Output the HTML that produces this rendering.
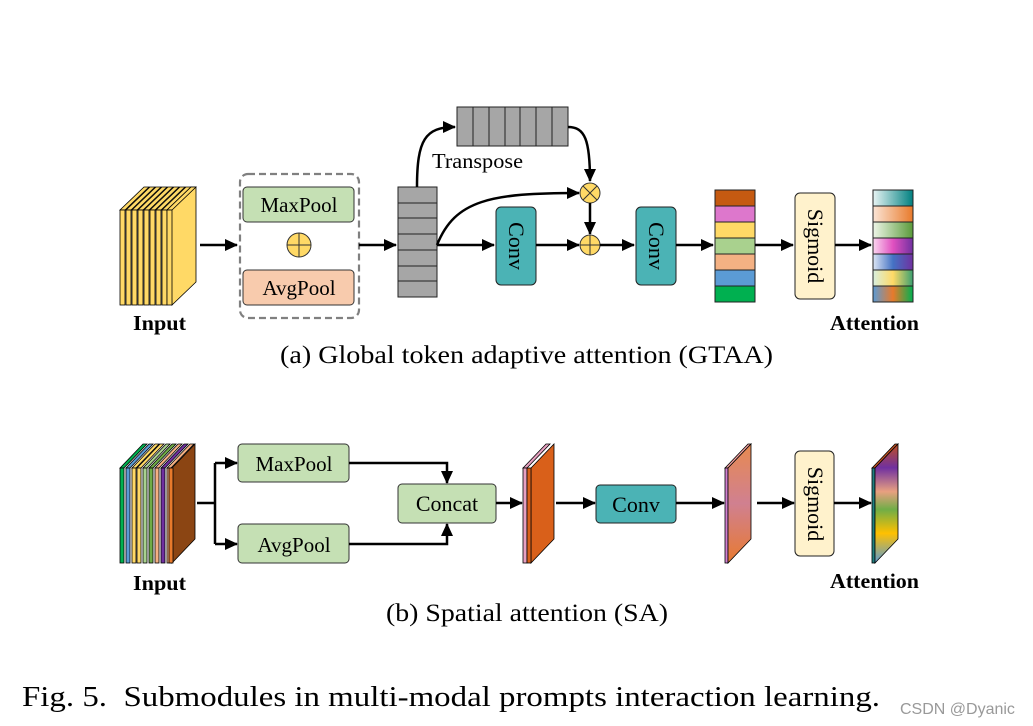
<!DOCTYPE html>
<html><head><meta charset="utf-8"><style>
html,body{margin:0;padding:0;background:#fff}
svg{display:block}
text{font-family:"Liberation Serif",serif}
</style></head><body>
<svg width="1033" height="726" viewBox="0 0 1033 726" xmlns="http://www.w3.org/2000/svg">
<defs>
<marker id="ar" markerWidth="13" markerHeight="12" refX="12" refY="6" orient="auto" markerUnits="userSpaceOnUse"><path d="M0,0 L13,6 L0,12 z" fill="#000"/></marker>
<linearGradient id="g1" x1="0" x2="1"><stop offset="0" stop-color="#e8f4f4"/><stop offset="1" stop-color="#008080"/></linearGradient>
<linearGradient id="g2" x1="0" x2="1"><stop offset="0" stop-color="#fbe5d6"/><stop offset="1" stop-color="#e87a2b"/></linearGradient>
<linearGradient id="g3" x1="0" x2="1"><stop offset="0" stop-color="#eef6e8"/><stop offset="1" stop-color="#5a9a3a"/></linearGradient>
<linearGradient id="g4" x1="0" x2="1"><stop offset="0" stop-color="#fbd7f0"/><stop offset="0.5" stop-color="#e050c0"/><stop offset="1" stop-color="#7030a0"/></linearGradient>
<linearGradient id="g5" x1="0" x2="1"><stop offset="0" stop-color="#dde6f4"/><stop offset="0.5" stop-color="#4472c4"/><stop offset="1" stop-color="#7030a0"/></linearGradient>
<linearGradient id="g6" x1="0" x2="1"><stop offset="0" stop-color="#d8f0e0"/><stop offset="0.5" stop-color="#ffd966"/><stop offset="1" stop-color="#3aa070"/></linearGradient>
<linearGradient id="g7" x1="0" x2="1"><stop offset="0" stop-color="#5b9bd5"/><stop offset="0.5" stop-color="#e87a2b"/><stop offset="1" stop-color="#00b050"/></linearGradient>
<linearGradient id="gm2" x1="0" y1="0" x2="0" y2="1"><stop offset="0" stop-color="#e88a50"/><stop offset="0.5" stop-color="#d08090"/><stop offset="1" stop-color="#e87a30"/></linearGradient>
<linearGradient id="gat" x1="0" y1="0" x2="0" y2="1"><stop offset="0" stop-color="#c05020"/><stop offset="0.2" stop-color="#7030a0"/><stop offset="0.4" stop-color="#e8a080"/><stop offset="0.55" stop-color="#70ad47"/><stop offset="0.75" stop-color="#ffc000"/><stop offset="1" stop-color="#5b9bd5"/></linearGradient>
</defs>

<!-- TOP input stack -->
<g stroke="#000" stroke-width="0.8" fill="#ffd966">
<path d="M120,210 l24,-23 h5 l-24,23 z"/><rect x="120" y="210" width="5" height="95"/>
<path d="M126,210 l24,-23 h5 l-24,23 z"/><rect x="126" y="210" width="5" height="95"/>
<path d="M132,210 l24,-23 h5 l-24,23 z"/><rect x="132" y="210" width="5" height="95"/>
<path d="M138,210 l24,-23 h5 l-24,23 z"/><rect x="138" y="210" width="5" height="95"/>
<path d="M144,210 l24,-23 h5 l-24,23 z"/><rect x="144" y="210" width="5" height="95"/>
<path d="M150,210 l24,-23 h5 l-24,23 z"/><rect x="150" y="210" width="5" height="95"/>
<path d="M156,210 l24,-23 h5 l-24,23 z"/><rect x="156" y="210" width="5" height="95"/>
<path d="M162,210 l24,-23 h5 l-24,23 z"/><rect x="162" y="210" width="5" height="95"/>
<path d="M167,210 l24,-23 h5 v95 l-24,23 z"/>
<path d="M167,210 l24,-23 h5 l-24,23 z"/><rect x="167" y="210" width="5" height="95"/>
</g>
<text x="133" y="330" font-size="21" font-weight="bold" textLength="53" lengthAdjust="spacingAndGlyphs">Input</text>

<line x1="200" y1="245" x2="237" y2="245" stroke="#000" stroke-width="2.5" marker-end="url(#ar)"/>
<rect x="240" y="174" width="119" height="144" rx="8" fill="none" stroke="#808080" stroke-width="2.2" stroke-dasharray="7,4"/>
<rect x="243" y="187" width="111" height="35" rx="4" fill="#c5e0b4" stroke="#333" stroke-width="1"/>
<text x="299" y="212" font-size="21" text-anchor="middle">MaxPool</text>
<circle cx="299" cy="245" r="12" fill="#ffd966" stroke="#333"/><path d="M287,245 h24 M299,233 v24" stroke="#333"/>
<rect x="243" y="270" width="111" height="35" rx="4" fill="#f8cbad" stroke="#333" stroke-width="1"/>
<text x="299" y="295" font-size="21" text-anchor="middle">AvgPool</text>
<line x1="359" y1="245" x2="396" y2="245" stroke="#000" stroke-width="2.5" marker-end="url(#ar)"/>

<g fill="#a6a6a6" stroke="#222" stroke-width="1">
<rect x="398" y="187" width="39" height="110"/>
<path d="M398,203 h39 M398,218 h39 M398,234 h39 M398,250 h39 M398,266 h39 M398,281 h39"/>
<rect x="457" y="107" width="111" height="39"/>
<path d="M473,107 v39 M489,107 v39 M505,107 v39 M520,107 v39 M536,107 v39 M552,107 v39"/>
</g>
<path d="M417,187 C417,140 425,127 455,127" fill="none" stroke="#000" stroke-width="2.5" marker-end="url(#ar)"/>
<text x="432" y="168" font-size="21" textLength="91" lengthAdjust="spacingAndGlyphs">Transpose</text>
<path d="M568,127 C585,127 590,140 590,181" fill="none" stroke="#000" stroke-width="2.5" marker-end="url(#ar)"/>
<path d="M437,245 C455,200 490,193 579,193" fill="none" stroke="#000" stroke-width="2.5" marker-end="url(#ar)"/>
<circle cx="590" cy="193" r="10" fill="#ffd966" stroke="#333"/><path d="M583,186 l14,14 M597,186 l-14,14" stroke="#333"/>
<line x1="590" y1="203" x2="590" y2="234" stroke="#000" stroke-width="2.5" marker-end="url(#ar)"/>
<circle cx="590" cy="245" r="10" fill="#ffd966" stroke="#333"/><path d="M580,245 h20 M590,235 v20" stroke="#333"/>
<line x1="437" y1="245" x2="494" y2="245" stroke="#000" stroke-width="2.5" marker-end="url(#ar)"/>
<rect x="496" y="207" width="40" height="78" rx="5" fill="#4bb3b5" stroke="#222"/>
<text transform="translate(509,246) rotate(90)" font-size="22" text-anchor="middle">Conv</text>
<line x1="536" y1="245" x2="579" y2="245" stroke="#000" stroke-width="2.5" marker-end="url(#ar)"/>
<line x1="600" y1="245" x2="634" y2="245" stroke="#000" stroke-width="2.5" marker-end="url(#ar)"/>
<rect x="636" y="207" width="40" height="78" rx="5" fill="#4bb3b5" stroke="#222"/>
<text transform="translate(649,246) rotate(90)" font-size="22" text-anchor="middle">Conv</text>
<line x1="676" y1="245" x2="713" y2="245" stroke="#000" stroke-width="2.5" marker-end="url(#ar)"/>
<g stroke="#222" stroke-width="1">
<rect x="715" y="190" width="40" height="16" fill="#c55a11"/>
<rect x="715" y="206" width="40" height="16" fill="#dd77cc"/>
<rect x="715" y="222" width="40" height="16" fill="#ffd966"/>
<rect x="715" y="238" width="40" height="16" fill="#a9d18e"/>
<rect x="715" y="254" width="40" height="16" fill="#f4b183"/>
<rect x="715" y="270" width="40" height="16" fill="#5b9bd5"/>
<rect x="715" y="286" width="40" height="16" fill="#00b050"/>
</g>
<line x1="755" y1="245" x2="793" y2="245" stroke="#000" stroke-width="2.5" marker-end="url(#ar)"/>
<rect x="795" y="193" width="40" height="106" rx="5" fill="#fff2cc" stroke="#222"/>
<text transform="translate(808,246) rotate(90)" font-size="22" text-anchor="middle">Sigmoid</text>
<line x1="835" y1="245" x2="871" y2="245" stroke="#000" stroke-width="2.5" marker-end="url(#ar)"/>
<g stroke="#222" stroke-width="1">
<rect x="873" y="190" width="40" height="16" fill="url(#g1)"/>
<rect x="873" y="206" width="40" height="16" fill="url(#g2)"/>
<rect x="873" y="222" width="40" height="16" fill="url(#g3)"/>
<rect x="873" y="238" width="40" height="16" fill="url(#g4)"/>
<rect x="873" y="254" width="40" height="16" fill="url(#g5)"/>
<rect x="873" y="270" width="40" height="16" fill="url(#g6)"/>
<rect x="873" y="286" width="40" height="16" fill="url(#g7)"/>
</g>
<text x="830" y="330" font-size="21" font-weight="bold" textLength="89" lengthAdjust="spacingAndGlyphs">Attention</text>
<text x="280" y="363" font-size="25" textLength="493" lengthAdjust="spacingAndGlyphs">(a) Global token adaptive attention (GTAA)</text>

<!-- BOTTOM -->
<g stroke="#000" stroke-width="0.8">
<g fill="#00b050"><path d="M120,468 l23,-24 h4 l-23,24 z"/><rect x="120" y="468" width="4" height="95"/></g>
<g fill="#5b9bd5"><path d="M126,468 l23,-24 h4 l-23,24 z"/><rect x="126" y="468" width="4" height="95"/></g>
<g fill="#ffd966"><path d="M132,468 l23,-24 h4 l-23,24 z"/><rect x="132" y="468" width="4" height="95"/></g>
<g fill="#ffd966"><path d="M137,468 l23,-24 h4 l-23,24 z"/><rect x="137" y="468" width="4" height="95"/></g>
<g fill="#a9d18e"><path d="M143,468 l23,-24 h4 l-23,24 z"/><rect x="143" y="468" width="4" height="95"/></g>
<g fill="#70ad47"><path d="M149,468 l23,-24 h4 l-23,24 z"/><rect x="149" y="468" width="4" height="95"/></g>
<g fill="#f4b183"><path d="M155,468 l23,-24 h4 l-23,24 z"/><rect x="155" y="468" width="4" height="95"/></g>
<g fill="#7030a0"><path d="M161,468 l23,-24 h4 l-23,24 z"/><rect x="161" y="468" width="4" height="95"/></g>
<g fill="#f4b183"><path d="M167,468 l23,-24 h4 l-23,24 z"/><rect x="167" y="468" width="4" height="95"/></g>
<path d="M172,468 l23,-24 v95 l-23,24 z" fill="#8b4513"/>
<rect x="169" y="468" width="4" height="95" fill="#e87a2b"/>
</g>
<text x="133" y="590" font-size="21" font-weight="bold" textLength="53" lengthAdjust="spacingAndGlyphs">Input</text>

<path d="M197,503 h18 M215,463 v81" stroke="#000" stroke-width="2.5" fill="none"/>
<line x1="215" y1="463" x2="237" y2="463" stroke="#000" stroke-width="2.5" marker-end="url(#ar)"/>
<line x1="215" y1="544" x2="237" y2="544" stroke="#000" stroke-width="2.5" marker-end="url(#ar)"/>
<rect x="238" y="444" width="111" height="38" rx="4" fill="#c5e0b4" stroke="#333"/>
<text x="294" y="471" font-size="21" text-anchor="middle">MaxPool</text>
<rect x="238" y="524" width="111" height="39" rx="4" fill="#c5e0b4" stroke="#333"/>
<text x="294" y="552" font-size="21" text-anchor="middle">AvgPool</text>
<path d="M349,463 H447 V483" fill="none" stroke="#000" stroke-width="2.5" marker-end="url(#ar)"/>
<path d="M349,544 H447 V524" fill="none" stroke="#000" stroke-width="2.5" marker-end="url(#ar)"/>
<rect x="398" y="484" width="98" height="39" rx="4" fill="#c5e0b4" stroke="#333"/>
<text x="447" y="511" font-size="22" text-anchor="middle">Concat</text>
<line x1="496" y1="503" x2="522" y2="503" stroke="#000" stroke-width="2.5" marker-end="url(#ar)"/>
<g stroke="#000" stroke-width="0.8">
<path d="M523,468 l23,-24 h4 l-23,24 z" fill="#e8a0c0"/><rect x="523" y="468" width="4" height="95" fill="#e8a0c0"/>
<path d="M531,468 l23,-24 v95 l-23,24 z" fill="#d9601a"/>
<rect x="527" y="468" width="4" height="95" fill="#d9601a"/>
</g>
<line x1="556" y1="503" x2="595" y2="503" stroke="#000" stroke-width="2.5" marker-end="url(#ar)"/>
<rect x="596" y="485" width="80" height="38" rx="4" fill="#4bb3b5" stroke="#222"/>
<text x="636" y="512" font-size="22" text-anchor="middle">Conv</text>
<line x1="676" y1="503" x2="724" y2="503" stroke="#000" stroke-width="2.5" marker-end="url(#ar)"/>
<g stroke="#000" stroke-width="0.8">
<path d="M725,468 l23,-24 h3 l-23,24 z" fill="#f0a0a0"/><rect x="725" y="468" width="3" height="95" fill="#d080d0"/>
<path d="M728,468 l23,-24 v95 l-23,24 z" fill="url(#gm2)"/>
</g>
<line x1="757" y1="503" x2="794" y2="503" stroke="#000" stroke-width="2.5" marker-end="url(#ar)"/>
<rect x="795" y="451" width="39" height="105" rx="5" fill="#fff2cc" stroke="#222"/>
<text transform="translate(808,504) rotate(90)" font-size="22" text-anchor="middle">Sigmoid</text>
<line x1="834" y1="503" x2="871" y2="503" stroke="#000" stroke-width="2.5" marker-end="url(#ar)"/>
<g stroke="#000" stroke-width="0.8">
<path d="M872,468 l23,-24 h3 l-23,24 z" fill="#c05020"/><rect x="872" y="468" width="3" height="95" fill="#208080"/>
<path d="M875,468 l23,-24 v95 l-23,24 z" fill="url(#gat)"/>
</g>
<text x="830" y="588" font-size="21" font-weight="bold" textLength="89" lengthAdjust="spacingAndGlyphs">Attention</text>
<text x="386" y="621" font-size="25" textLength="282" lengthAdjust="spacingAndGlyphs">(b) Spatial attention (SA)</text>

<text x="22" y="706" font-size="29" xml:space="preserve" textLength="858" lengthAdjust="spacingAndGlyphs">Fig. 5.  Submodules in multi-modal prompts interaction learning.</text>
<text x="900" y="714" font-size="16" fill="#999" style="font-family:'Liberation Sans',sans-serif">CSDN @Dyanic</text>
</svg>
</body></html>
